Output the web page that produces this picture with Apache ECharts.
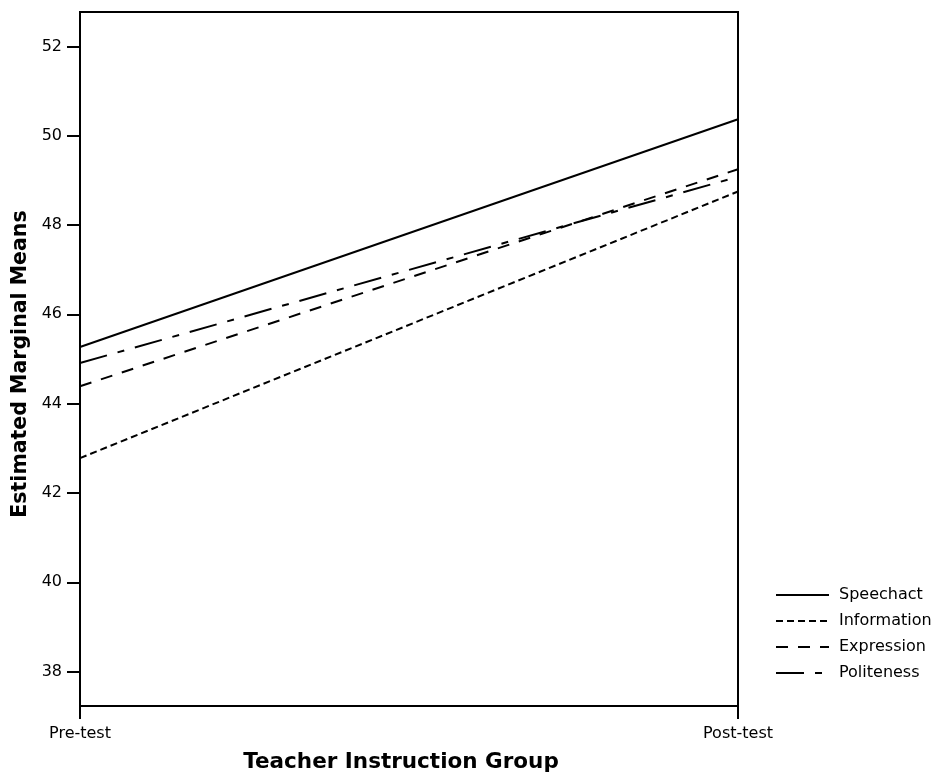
<!DOCTYPE html>
<html>
<head>
<meta charset="utf-8">
<script src="https://cdn.jsdelivr.net/npm/echarts@6/dist/echarts.min.js"></script>
<style>html,body{margin:0;padding:0;background:#fff}#c{width:931px;height:773px}</style>
</head>
<body>
<div id="c"></div>
<script>
var categories = ['Pre-test', 'Post-test'];
var seriesNames = ['Speechact', 'Information', 'Expression', 'Politeness'];
var speechact = [45.27, 50.37];
var information = [42.78, 48.75];
var expression = [44.39, 49.25];
var politeness = [44.91, 49.08];
var yTicks = [38, 40, 42, 44, 46, 48, 50, 52];
var yMin = 37.23, yMax = 52.77;

var font = '"DejaVu Sans", "Liberation Sans", Arial, sans-serif';
var dashes = ['solid', [7, 4], [12, 10], [28, 11, 7, 11]];
var data = [speechact, information, expression, politeness];

var chart = echarts.init(document.getElementById('c'), null, {renderer: 'canvas'});
chart.setOption({
  backgroundColor: '#fff',
  animation: false,
  textStyle: {fontFamily: font},
  grid: {left: 80, right: 193, top: 12, bottom: 67, show: true, borderColor: '#000', borderWidth: 2,
         backgroundColor: 'transparent', containLabel: false, outerBoundsMode: 'none'},
  legend: {
    orient: 'vertical', left: 770, top: 582, itemWidth: 53, itemHeight: 14, itemGap: 10,
    textStyle: {fontFamily: font, fontSize: 16, color: '#000', padding: [0, 0, 0, 5]},
    itemStyle: {color: 'transparent', borderWidth: 0, opacity: 0},
    data: seriesNames
  },
  xAxis: {
    type: 'category', data: categories, boundaryGap: false,
    axisLine: {lineStyle: {color: '#000', width: 2}},
    axisTick: {show: true, inside: false, length: 13, lineStyle: {color: '#000', width: 2}},
    axisLabel: {color: '#000', fontSize: 16, fontFamily: font, margin: 20},
    splitLine: {show: false},
    name: 'Teacher Instruction Group', nameLocation: 'middle', nameGap: 45,
    nameTextStyle: {fontFamily: font, fontSize: 21.5, fontWeight: 'bold', color: '#000', padding: [0, 16, 0, 0]}
  },
  yAxis: {
    type: 'value', min: yMin, max: yMax,
    axisLine: {show: true, lineStyle: {color: '#000', width: 2}},
    axisTick: {show: true, length: 13, lineStyle: {color: '#000', width: 2}, customValues: yTicks},
    axisLabel: {color: '#000', fontSize: 16, fontFamily: font, margin: 18, customValues: yTicks},
    splitLine: {show: false},
    name: 'Estimated Marginal Means', nameLocation: 'middle', nameGap: 30,
    nameTextStyle: {fontFamily: font, fontSize: 20.5, fontWeight: 'bold', color: '#000', padding: [0, 10, 0, 0]}
  },
  series: seriesNames.map(function (n, i) {
    return {
      name: n, type: 'line', data: data[i], symbol: 'none', silent: true,
      itemStyle: {color: '#000'},
      lineStyle: {color: '#000', width: 2, type: dashes[i]}
    };
  })
});
</script>
</body>
</html>
